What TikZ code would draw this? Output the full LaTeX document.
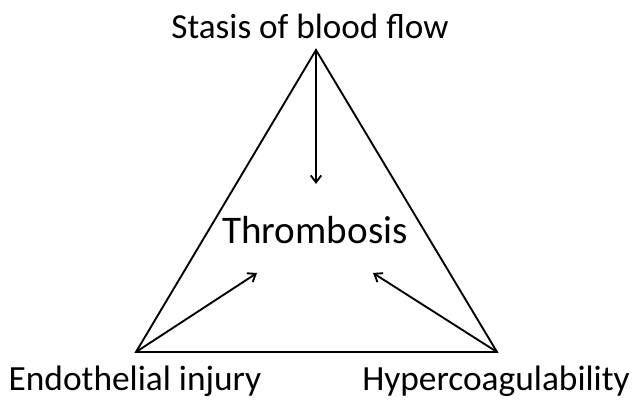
\documentclass[tikz,border=0pt]{standalone}
\usepackage{fontspec}
\setmainfont{Carlito}
\usetikzlibrary{arrows.meta}
\tikzset{
  edge/.style={line width=1.6pt,line join=miter},
  push/.style={line width=1.6pt,-{Straight Barb[length=6pt,width=9pt]}},
  corner/.style={anchor=base,inner sep=0pt,font=\fontsize{30.2}{34}\selectfont},
  top/.style={anchor=base,inner sep=0pt,font=\fontsize{30}{34}\selectfont},
  mid/.style={anchor=base,inner sep=0pt,font=\fontsize{33.4}{38}\selectfont}
}
\begin{document}
\begin{tikzpicture}[x=0.03cm,y=-0.03cm]
            \useasboundingbox (0,0) rectangle (632,401);
            % triangle corners
            \coordinate (stasis) at (316,50);
            \coordinate (injury) at (136,352);
            \coordinate (hyper) at (497,352);
            \draw[edge] (stasis) -- (injury) -- (hyper) -- cycle;
            % labels
            \node[top] (stasislbl) at (310,39) {Stasis of blood flow};
            \node[mid] (thrombosis) at (315,244) {Thrombosis};
            \node[corner] (injurylbl) at (135,391) {Endothelial injury};
            \node[corner] (hyperlbl) at (496,391) {Hypercoagulability};
            % arrows into the centre
            \coordinate (tipA) at (316,184);
            \coordinate (tipB) at (257,273);
            \coordinate (tipC) at (373,273);
            \draw[push] (stasis) -- (tipA);
            \draw[push] (injury) -- (tipB);
            \draw[push] (hyper) -- (tipC);
        \end{tikzpicture}
\end{document}
